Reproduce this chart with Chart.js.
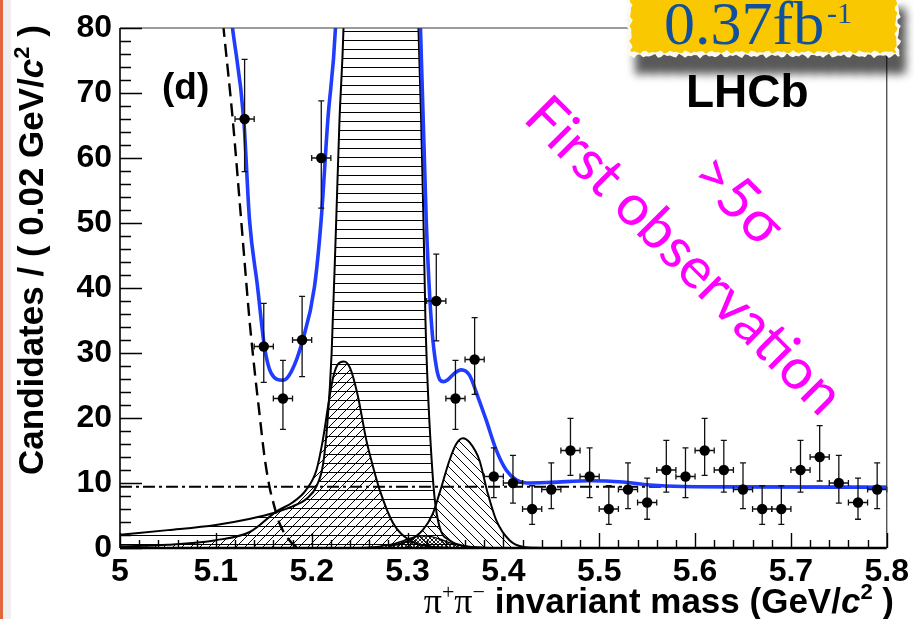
<!DOCTYPE html>
<html>
<head>
<meta charset="utf-8">
<title>pi+pi- invariant mass</title>
<script src="https://cdn.jsdelivr.net/npm/chart.js@4.4.1/dist/chart.umd.min.js"></script>
<style>
  html, body { margin: 0; padding: 0; background: #fff; }
  body { width: 914px; height: 619px; overflow: hidden; position: relative; }
  #massChart { position: absolute; left: 0; top: 0; }
  .edge { position: absolute; left: 0; top: 0; width: 3px; height: 619px; background: #e2653f; }
  .edge2 { position: absolute; left: 3px; top: 0; width: 8px; height: 619px; background: #efefef; }
</style>
</head>
<body>
<canvas id="massChart" width="914" height="619"></canvas>
<div class="edge"></div><div class="edge2"></div>
<script>
// --- data: bins inside the plotted range (GeV/c^2) ---
const binWidth = 0.02;
const massBins = [5.13, 5.15, 5.17, 5.19, 5.21, 5.33, 5.35, 5.37, 5.39, 5.41, 5.43, 5.45, 5.47, 5.49, 5.51,
                  5.53, 5.55, 5.57, 5.59, 5.61, 5.63, 5.65, 5.67, 5.69, 5.71, 5.73, 5.75, 5.77, 5.79];
const counts = [66, 31, 23, 32, 60, 38, 23, 29, 11, 10, 6, 9, 15, 11, 6,
                9, 7, 12, 11, 15, 12, 9, 6, 6, 12, 14, 10, 7, 9];

// total fit (blue)
const fitMass = [5.10, 5.1174, 5.1292, 5.1351, 5.1435, 5.1508, 5.1577, 5.170, 5.1786, 5.1907,
                 5.2029, 5.2099, 5.2168, 5.2248, 5.232, 5.305, 5.3135, 5.3195, 5.3247, 5.3306,
                 5.3375, 5.342, 5.350, 5.356, 5.3646, 5.3733, 5.382, 5.3925, 5.4029, 5.4133,
                 5.4238, 5.45, 5.49, 5.5246, 5.5524, 5.587, 5.65, 5.80];
const fitTotal = [101, 80, 65.8, 50.5, 40.2, 30.9, 26.9, 25.8, 27.1, 32,
                  40.2, 50.5, 65.8, 80, 110, 110, 80, 50.5, 35.1, 27.4,
                  25.6, 25.9, 27.0, 27.4, 26.6, 23.3, 19.7, 15.1, 12.0, 10.5,
                  10.0, 10.1, 10.35, 10.15, 9.7, 9.45, 9.4, 9.35];

// B0 -> pi+pi- (horizontal hatch)
const pipiMass = [5.0, 5.05, 5.1, 5.136, 5.163, 5.18, 5.195, 5.205, 5.212, 5.2168,
                  5.2208, 5.2255, 5.229, 5.2332, 5.245, 5.272, 5.30, 5.3114, 5.3142, 5.3166,
                  5.3187, 5.3211, 5.3247, 5.3281, 5.3333, 5.3438, 5.36, 5.38, 5.40];
const pipiYield = [2.05, 2.75, 3.55, 4.5, 5.5, 6.4, 7.6, 9.5, 13, 20,
                   30, 50, 65.8, 80, 160, 390, 160, 80, 65.8, 50.5,
                   35, 24.8, 14.6, 7.9, 3.3, 1.2, 0.3, 0.05, 0];

// misidentified K+pi- (diagonal hatch)
const kpiMass = [5.0, 5.05, 5.1, 5.136, 5.163, 5.18, 5.194, 5.205, 5.2116, 5.217, 5.222, 5.227,
                 5.2335, 5.24, 5.248, 5.257, 5.264, 5.271, 5.285, 5.302, 5.32, 5.34, 5.36];
const kpiYield = [0.25, 0.5, 1.2, 2.5, 5.6, 7.0, 8.9, 12, 16.6, 21.7, 26.0, 28.2,
                  28.7, 27.7, 23.5, 16.6, 12.5, 8.9, 3.8, 1.2, 0.3, 0.05, 0];

// Bs -> pi+pi- (back-diagonal hatch)
const bsMass = [5.28, 5.302, 5.316, 5.3264, 5.3333, 5.3438, 5.3508, 5.3577, 5.365, 5.375,
                5.3837, 5.3925, 5.4064, 5.42, 5.44];
const bsYield = [0.2, 1.2, 2.8, 5.3, 8.4, 13.5, 16.0, 16.9, 16.2, 13.5,
                 8.4, 4.3, 1.2, 0.2, 0];

// small cross-hatched component
const humpMass = [5.25, 5.27, 5.285, 5.295, 5.305, 5.315, 5.325, 5.335, 5.345, 5.36, 5.38, 5.40];
const humpYield = [0, 0.25, 0.6, 1.1, 1.6, 1.9, 1.75, 1.3, 0.75, 0.25, 0.05, 0];

// partially reconstructed background (dashed)
const partMass = [5.095, 5.108, 5.1177, 5.1264, 5.1351, 5.1403, 5.1455, 5.1508, 5.156, 5.1601,
                  5.1664, 5.175, 5.1838, 5.19];
const partYield = [99, 80, 65.8, 50.5, 35.1, 27.5, 20.7, 14, 9.4, 6.9, 3.8, 1.5, 0.2, 0];

// combinatorial background (dash-dot)
const combMass = [5.0, 5.8];
const combYield = [9.43, 9.43];

const xTicks = [5, 5.1, 5.2, 5.3, 5.4, 5.5, 5.6, 5.7, 5.8];

const SANS = "'Liberation Sans', Arial, Helvetica, sans-serif";
const SERIF = "'Liberation Serif', 'Times New Roman', serif";
const NOTE = "Lato, 'Open Sans', sans-serif";

function pts(xs, ys) {
    return xs.map((x, i) => ({ x: x, y: ys[i] }));
}

// 68% Poisson interval for a count
function poissonBand(n) {
    const lo = n * Math.pow(1 - 1 / (9 * n) - 1 / (3 * Math.sqrt(n)), 3);
    const m = n + 1;
    const hi = m * Math.pow(1 - 1 / (9 * m) + 1 / (3 * Math.sqrt(m)), 3);
    return [lo, hi];
}

// --- hatch patterns ---
function hatch(kind) {
    const c = document.createElement('canvas');
    const size = kind === 'cross' ? 4 : 9;
    c.width = size;
    c.height = size;
    const g = c.getContext('2d');
    g.strokeStyle = '#000';
    g.lineWidth = kind === 'cross' ? 0.8 : 1;
    g.beginPath();
    if (kind === 'h') {
        g.moveTo(0, 4.5); g.lineTo(size, 4.5);
    }
    if (kind === 'd' || kind === 'cross') {
        g.moveTo(-1, size + 1); g.lineTo(size + 1, -1);
        g.moveTo(-1, 1); g.lineTo(1, -1);
        g.moveTo(size - 1, size + 1); g.lineTo(size + 1, size - 1);
    }
    if (kind === 'b' || kind === 'cross') {
        g.moveTo(-1, -1); g.lineTo(size + 1, size + 1);
        g.moveTo(size - 1, -1); g.lineTo(size + 1, 1);
        g.moveTo(-1, size - 1); g.lineTo(1, size + 1);
    }
    g.stroke();
    return g.createPattern(c, 'repeat');
}

// --- text helpers ---
function richWidth(ctx, parts) {
    let w = 0;
    parts.forEach(p => { ctx.font = p.font; w += ctx.measureText(p.t).width; });
    return w;
}
function drawRich(ctx, parts, x, y) {
    parts.forEach(p => {
        ctx.font = p.font;
        ctx.fillText(p.t, x, y - (p.dy || 0));
        x += ctx.measureText(p.t).width;
    });
}

// error bars drawn under the markers
const errorBars = {
    id: 'errorBars',
    beforeDatasetDraw(chart, args) {
        if (!chart.data.datasets[args.index].errorBars) return;
        const { ctx } = chart;
        const x = chart.scales.x, y = chart.scales.y;
        ctx.save();
        ctx.strokeStyle = '#111';
        ctx.lineWidth = 1.3;
        counts.forEach((n, i) => {
            const px = x.getPixelForValue(massBins[i]);
            const py = y.getPixelForValue(n);
            const [lo, hi] = poissonBand(n);
            const yl = y.getPixelForValue(lo), yh = y.getPixelForValue(hi);
            const xl = x.getPixelForValue(massBins[i] - binWidth / 2);
            const xr = x.getPixelForValue(massBins[i] + binWidth / 2);
            ctx.beginPath();
            ctx.moveTo(px, yl); ctx.lineTo(px, yh);
            ctx.moveTo(px - 3, yl); ctx.lineTo(px + 3, yl);
            ctx.moveTo(px - 3, yh); ctx.lineTo(px + 3, yh);
            ctx.moveTo(xl, py); ctx.lineTo(xr, py);
            ctx.moveTo(xl, py - 3); ctx.lineTo(xl, py + 3);
            ctx.moveTo(xr, py - 3); ctx.lineTo(xr, py + 3);
            ctx.stroke();
        });
        ctx.restore();
    }
};

// frame with inward ticks, ROOT style
const frame = {
    id: 'frame',
    afterDatasetsDraw(chart) {
        const { ctx, chartArea: a } = chart;
        const x = chart.scales.x, y = chart.scales.y;
        ctx.save();
        ctx.strokeStyle = '#3a3a3a';
        ctx.lineWidth = 1.2;
        ctx.beginPath();
        ctx.moveTo(a.left, a.top); ctx.lineTo(a.right, a.top); ctx.lineTo(a.right, a.bottom);
        ctx.stroke();
        ctx.strokeStyle = '#000';
        ctx.lineWidth = 1.4;
        ctx.beginPath();
        for (let v = 0; v <= 80; v += 2) {
            const py = Math.round(y.getPixelForValue(v)) + 0.5;
            ctx.moveTo(a.left, py);
            ctx.lineTo(a.left + (v % 10 === 0 ? 22 : 11), py);
        }
        for (let i = 0; i <= 40; i++) {
            const px = Math.round(x.getPixelForValue(5 + i * 0.02)) + 0.5;
            ctx.moveTo(px, a.bottom);
            ctx.lineTo(px, a.bottom - (i % 5 === 0 ? 15 : 8));
        }
        ctx.stroke();
        ctx.lineWidth = 1.6;
        ctx.beginPath();
        ctx.moveTo(a.left, a.top); ctx.lineTo(a.left, a.bottom);
        ctx.stroke();
        ctx.lineWidth = 2.6;
        ctx.beginPath();
        ctx.moveTo(a.left, a.bottom); ctx.lineTo(a.right, a.bottom);
        ctx.stroke();
        ctx.restore();
    }
};

// titles, labels and the luminosity tag
const annotations = {
    id: 'annotations',
    afterDraw(chart) {
        const { ctx } = chart;
        ctx.save();
        ctx.fillStyle = '#000';
        ctx.textBaseline = 'alphabetic';
        ctx.textAlign = 'left';

        // y title
        const yParts = [
            { t: 'Candidates / ( 0.02 GeV/', font: 'bold 35px ' + SANS },
            { t: 'c', font: 'italic bold 35px ' + SANS },
            { t: '2', font: 'bold 22px ' + SANS, dy: 14 },
            { t: ' )', font: 'bold 35px ' + SANS }
        ];
        const yw = richWidth(ctx, yParts);
        ctx.save();
        ctx.translate(43, 250 + yw / 2);
        ctx.rotate(-Math.PI / 2);
        drawRich(ctx, yParts, 0, 0);
        ctx.restore();

        // x title
        const xParts = [
            { t: '\u03c0', font: '36px ' + SERIF },
            { t: '+', font: '22px ' + SERIF, dy: 14 },
            { t: '\u03c0', font: '36px ' + SERIF },
            { t: '\u2212', font: '22px ' + SERIF, dy: 14 },
            { t: ' invariant mass (GeV/', font: 'bold 35px ' + SANS },
            { t: 'c', font: 'italic bold 35px ' + SANS },
            { t: '2', font: 'bold 22px ' + SANS, dy: 14 },
            { t: ' )', font: 'bold 35px ' + SANS }
        ];
        const xw = richWidth(ctx, xParts);
        drawRich(ctx, xParts, 894 - xw, 613);

        ctx.font = 'bold 37px ' + SANS;
        ctx.fillText('(d)', 162, 99);

        ctx.font = 'bold 46px ' + SANS;
        ctx.fillText('LHCb', 686, 107);

        // rotated magenta notes
        ctx.fillStyle = '#ff00ff';
        ctx.textAlign = 'center';
        ctx.textBaseline = 'middle';
        ctx.save();
        ctx.translate(684, 256);
        ctx.rotate(Math.PI / 4);
        ctx.font = '57px ' + NOTE;
        ctx.fillText('First observation', 0, 0);
        ctx.restore();
        ctx.save();
        ctx.translate(738, 200);
        ctx.rotate(Math.PI / 4);
        ctx.font = '58px ' + NOTE;
        ctx.fillText('>5\u03c3', 0, 0);
        ctx.restore();

        // torn yellow tag with shadow
        const outline = (x0, y0, x1, y1, amp) => {
            const p = [];
            let k = 0;
            const j = () => amp * Math.sin(k * 2.7) * Math.cos(k++ * 1.3);
            for (let yy = y0; yy < y1; yy += 3) p.push([x0 + j(), yy]);
            for (let xx = x0; xx < x1; xx += 3) p.push([xx, y1 + j()]);
            for (let yy = y1; yy > y0; yy -= 3) p.push([x1 + j(), yy]);
            p.push([x1, y0]);
            ctx.beginPath();
            p.forEach((q, i) => i ? ctx.lineTo(q[0], q[1]) : ctx.moveTo(q[0], q[1]));
            ctx.closePath();
        };
        ctx.save();
        ctx.shadowColor = 'rgba(0,0,0,0.65)';
        ctx.shadowBlur = 9;
        ctx.shadowOffsetX = 7;
        ctx.shadowOffsetY = 18;
        outline(628, -10, 899, 56, 2.5);
        ctx.fillStyle = '#fbfaf0';
        ctx.fill();
        ctx.restore();
        outline(631, -10, 896, 52, 2);
        ctx.fillStyle = '#f9c800';
        ctx.fill();

        ctx.textAlign = 'left';
        ctx.textBaseline = 'alphabetic';
        ctx.fillStyle = '#10509e';
        ctx.font = '62px ' + SERIF;
        ctx.fillText('0.37fb', 664, 44);
        ctx.font = '30px ' + SERIF;
        ctx.fillText('-1', 827, 23);
        ctx.restore();
    }
};

const lineBase = {
    type: 'line',
    pointRadius: 0,
    borderColor: '#000',
    borderWidth: 2,
    cubicInterpolationMode: 'monotone',
    fill: false
};

new Chart(document.getElementById('massChart'), {
    type: 'line',
    data: {
        datasets: [
            { label: 'Data', type: 'line', data: pts(massBins, counts), showLine: false, errorBars: true,
              pointRadius: 5.2, pointBackgroundColor: '#000', pointBorderWidth: 0, order: 0 },
            { ...lineBase, label: 'Total', data: pts(fitMass, fitTotal), borderColor: '#1f3cff', borderWidth: 3.6, order: 1 },
            { ...lineBase, label: 'Partially reconstructed', data: pts(partMass, partYield), borderDash: [13, 7], borderWidth: 2.4, order: 2 },
            { ...lineBase, label: 'Combinatorial', data: pts(combMass, combYield), borderDash: [12, 4, 3, 4], order: 3 },
            { ...lineBase, label: 'Bs', data: pts(bsMass, bsYield), fill: 'origin', backgroundColor: hatch('b'), order: 4 },
            { ...lineBase, label: 'Small', data: pts(humpMass, humpYield), fill: 'origin', backgroundColor: hatch('cross'), borderWidth: 1.5, order: 5 },
            { ...lineBase, label: 'K pi', data: pts(kpiMass, kpiYield), fill: 'origin', backgroundColor: hatch('d'), order: 6 },
            { ...lineBase, label: 'pi pi', data: pts(pipiMass, pipiYield), fill: 'origin', backgroundColor: hatch('h'), order: 7 }
        ]
    },
    options: {
        responsive: false,
        animation: false,
        events: [],
        layout: { padding: { left: 0, right: 26, top: 28, bottom: 0 } },
        plugins: { legend: { display: false }, tooltip: { enabled: false } },
        scales: {
            x: {
                type: 'linear',
                min: 5,
                max: 5.8,
                afterFit: s => { s.height = 71; },
                afterBuildTicks: s => { s.ticks = xTicks.map(v => ({ value: v })); },
                grid: { display: false, drawTicks: false },
                border: { display: false },
                ticks: {
                    autoSkip: false,
                    maxRotation: 0,
                    padding: 5,
                    color: '#000',
                    font: { family: SANS, size: 32, weight: 'bold' },
                    callback: v => String(Math.round(v * 10) / 10)
                }
            },
            y: {
                type: 'linear',
                min: 0,
                max: 80,
                afterFit: s => { s.width = 120; },
                grid: { display: false, drawTicks: false },
                border: { display: false },
                ticks: {
                    stepSize: 10,
                    padding: 8,
                    color: '#000',
                    font: { family: SANS, size: 32, weight: 'bold' }
                }
            }
        }
    },
    plugins: [errorBars, frame, annotations]
});
</script>
</body>
</html>
